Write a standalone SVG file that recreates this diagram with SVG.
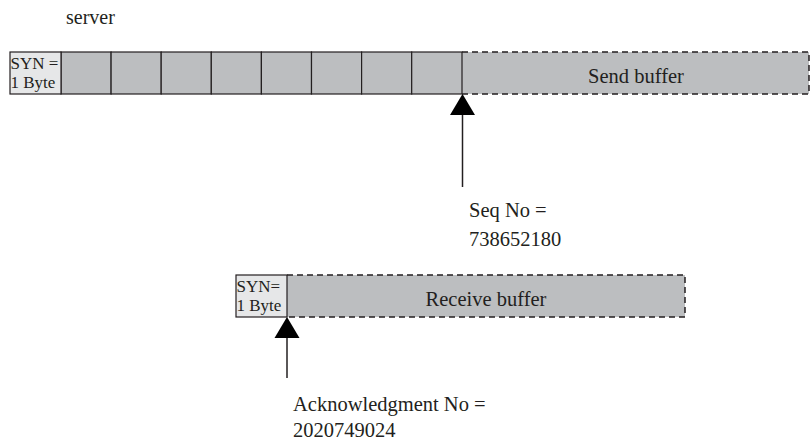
<svg xmlns="http://www.w3.org/2000/svg" width="811" height="441" viewBox="0 0 811 441">
<style>
text{font-family:"Liberation Serif","Times New Roman",serif;font-size:20.5px;fill:#231f20}
.small{font-size:17px}
.srv{font-size:20px}
.syn{fill:#e6e7e8;stroke:#231f20;stroke-width:1.2}
.cell{fill:#bcbec0;stroke:#231f20;stroke-width:1.2}
.buf{fill:#bcbec0;stroke:none}
.dash{fill:none;stroke:#231f20;stroke-width:1.5;stroke-dasharray:6 4}
.ptr{stroke:#231f20;stroke-width:1.5;fill:none}
.head{fill:#000}
</style>
<rect width="811" height="441" fill="#fff"/>
<text x="66" y="24" class="srv">server</text>
<g id="send-buffer">
<rect class="buf" x="462" y="52" width="347" height="42"/>
<path class="dash" d="M462,52 H809 V94 H462"/>
<rect class="cell" x="61" y="52" width="50.1" height="42"/>
<rect class="cell" x="111.1" y="52" width="50.1" height="42"/>
<rect class="cell" x="161.2" y="52" width="50.1" height="42"/>
<rect class="cell" x="211.3" y="52" width="50.1" height="42"/>
<rect class="cell" x="261.4" y="52" width="50.1" height="42"/>
<rect class="cell" x="311.5" y="52" width="50.1" height="42"/>
<rect class="cell" x="361.6" y="52" width="50.1" height="42"/>
<rect class="cell" x="411.7" y="52" width="50.3" height="42"/>
<text x="636" y="83" text-anchor="middle">Send buffer</text>
</g>
<g id="send-syn">
<rect class="syn" x="10" y="52" width="51" height="42"/>
<text x="10.5" y="68.5" class="small">SYN =</text>
<text x="10.5" y="88" class="small">1 Byte</text>
</g>
<g id="recv-buffer">
<rect class="buf" x="287" y="275" width="398" height="42"/>
<path class="dash" d="M287,275 H685 V317 H287"/>
<text x="486" y="306" text-anchor="middle">Receive buffer</text>
</g>
<g id="recv-syn">
<rect class="syn" x="236" y="275" width="51" height="42"/>
<text x="236.5" y="291.5" class="small">SYN=</text>
<text x="236.5" y="311" class="small">1 Byte</text>
</g>
<g id="connectors">
<line class="ptr" x1="462.5" y1="112" x2="462.5" y2="187"/>
<polygon class="head" points="462.5,94 450,115 475,115"/>
<line class="ptr" x1="287" y1="335" x2="287" y2="378"/>
<polygon class="head" points="287,317 274.5,338 299.5,338"/>
</g>
<g id="seq-label">
<text x="469" y="217">Seq No =</text>
<text x="469" y="246">738652180</text>
</g>
<g id="ack-label">
<text x="293" y="411">Acknowledgment No =</text>
<text x="293" y="437">2020749024</text>
</g>
</svg>
